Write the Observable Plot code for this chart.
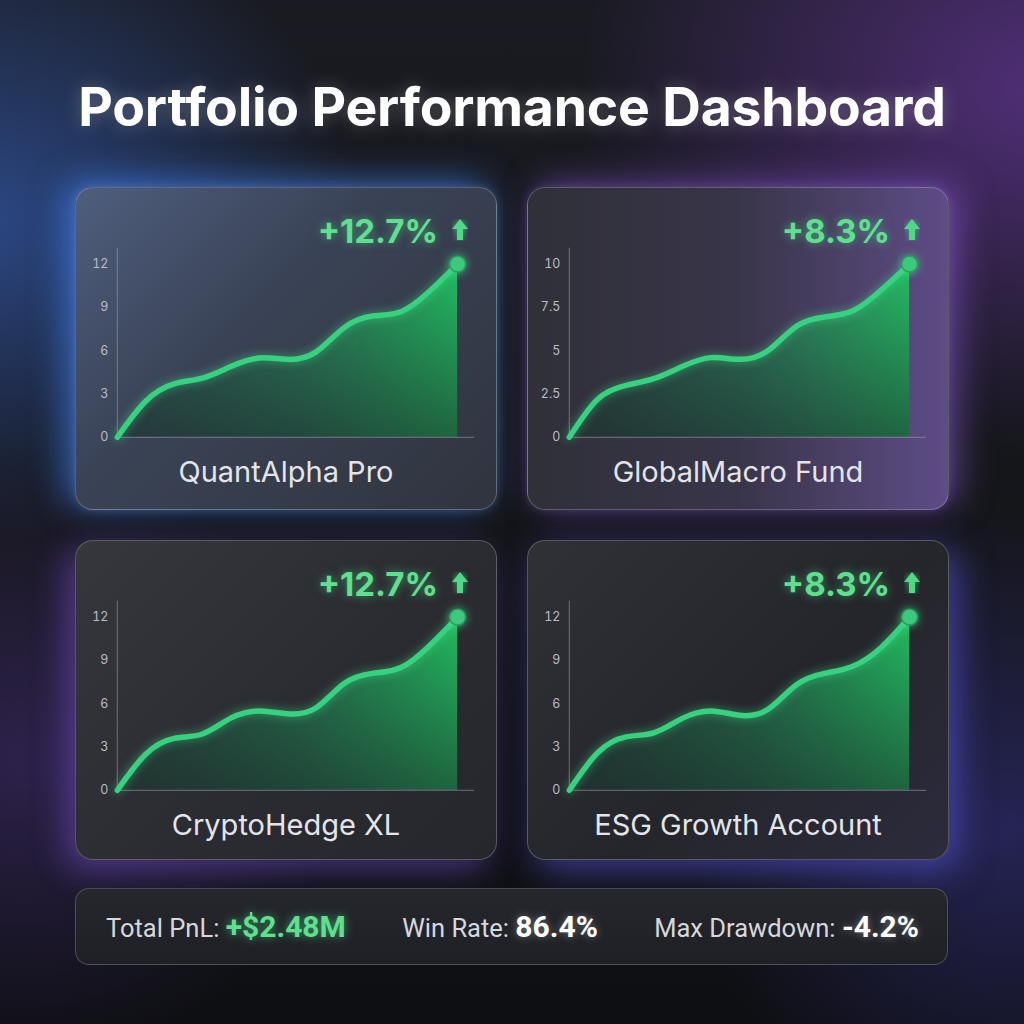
<!DOCTYPE html>
<html>
<head>
<meta charset="utf-8">
<script src="https://cdn.jsdelivr.net/npm/d3@7"></script>
<script src="https://cdn.jsdelivr.net/npm/@observablehq/plot@0.6"></script>
<style>
  html,body{margin:0;padding:0;}
  body{width:1024px;height:1024px;position:relative;overflow:hidden;font-family:Inter,"Noto Sans",sans-serif;
    background:
      radial-gradient(ellipse 380px 320px at -20px 220px, rgba(60,110,215,0.55), transparent 100%),
      radial-gradient(ellipse 460px 360px at 1040px 90px, rgba(115,60,175,0.6), transparent 100%),
      radial-gradient(ellipse 320px 300px at 20px 760px, rgba(95,60,170,0.35), transparent 100%),
      radial-gradient(ellipse 320px 320px at 1010px 830px, rgba(75,70,200,0.35), transparent 100%),
      linear-gradient(180deg,#1a1b22 0%,#141519 60%,#0e0f13 100%);}
  #title{position:absolute;left:0;top:74px;width:1024px;text-align:center;color:#fff;font-weight:700;font-size:53.5px;letter-spacing:-0.2px;text-shadow:0 0 18px rgba(255,255,255,0.25);}
  .card{position:absolute;width:422px;height:323px;border-radius:18px;border:1.5px solid rgba(255,255,255,0.22);box-sizing:border-box;overflow:hidden;}
  .card svg.plot{position:absolute;left:0;top:0;overflow:visible;}
  .pct{position:absolute;right:58px;top:23px;color:#5fe08f;font-weight:700;font-size:33px;text-shadow:0 0 10px rgba(80,230,140,0.55);}
  .arrow{position:absolute;left:376px;top:31px;}
  .name{position:absolute;left:0;width:100%;top:266px;text-align:center;color:#e3e5ea;font-size:29px;}
  #c1{left:75px;top:187px;background:linear-gradient(135deg,#4f5e7e 0%,#3a4356 40%,#30343e 100%);box-shadow:-10px -6px 34px rgba(70,140,255,0.6),0 0 10px rgba(140,180,255,0.25);}
  #c2{left:527px;top:187px;background:linear-gradient(90deg,#2f3038 0%,#393549 50%,#5e4c86 100%);box-shadow:10px -4px 34px rgba(150,100,235,0.5),0 0 10px rgba(180,150,255,0.2);}
  #c3{left:75px;top:540px;height:320px;background:linear-gradient(135deg,#36373d 0%,#2b2c31 55%,#26272c 100%);box-shadow:-10px 10px 32px rgba(130,90,230,0.45);}
  #c4{left:527px;top:540px;height:320px;background:linear-gradient(135deg,#303137 0%,#25262b 55%,#2b2b3c 100%);box-shadow:10px 10px 34px rgba(100,100,255,0.5);}
  #bar{position:absolute;left:75px;top:888px;width:873px;height:77px;border-radius:14px;border:1.5px solid rgba(255,255,255,0.2);box-sizing:border-box;
    background:linear-gradient(180deg,#26272d,#1f2025);display:flex;align-items:center;justify-content:space-between;padding:0 28px 0 30px;font-family:Roboto,Inter,sans-serif;}
  #bar .lab{color:#d6d8dd;font-size:25.5px;}
  #bar .val{font-weight:700;font-size:30px;color:#fff;text-shadow:0 0 8px rgba(255,255,255,0.35);}
  #bar .val.g{color:#5fe08f;text-shadow:0 0 10px rgba(80,230,140,0.6);}
</style>
</head>
<body>
<div id="title">Portfolio Performance Dashboard</div>
<div class="card" id="c1"></div>
<div class="card" id="c2"></div>
<div class="card" id="c3"></div>
<div class="card" id="c4"></div>
<div id="bar"></div>
<script>
// ---- data ----
const months = [0,1,2,3,4,5,6,7,8,9,10,11,12];
const quantAlpha    = [0, 2.5, 3.7, 4.1, 4.9, 5.5, 5.4, 5.9, 7.6, 8.4, 8.7, 10.1, 12];
const globalMacro   = [0, 2.2, 3.0, 3.4, 4.1, 4.6, 4.5, 5.0, 6.4, 6.95, 7.3, 8.5, 10];
const cryptoHedge   = [0, 2.5, 3.6, 3.9, 5.0, 5.5, 5.3, 5.7, 7.4, 8.1, 8.5, 10.0, 12];
const esgGrowth     = [0, 2.6, 3.7, 4.0, 5.0, 5.5, 5.2, 5.6, 7.3, 8.1, 8.6, 9.9, 12];
const fundNames     = ["QuantAlpha Pro","GlobalMacro Fund","CryptoHedge XL","ESG Growth Account"];
const fundReturns   = ["+12.7%","+8.3%","+12.7%","+8.3%"];
const ticks12       = [0,3,6,9,12];
const ticks10       = [0,2.5,5,7.5,10];
const summaryLabels = ["Total PnL:","Win Rate:","Max Drawdown:"];
const summaryValues = ["+$2.48M","86.4%","-4.2%"];

const series = [
  {id:"c1", values:quantAlpha,  top:12, ticks:ticks12},
  {id:"c2", values:globalMacro, top:10, ticks:ticks10},
  {id:"c3", values:cryptoHedge, top:12, ticks:ticks12},
  {id:"c4", values:esgGrowth,   top:12, ticks:ticks12}
];

series.forEach((s, k) => {
  const data = months.map((m, i) => ({m, v: s.values[i]}));
  const last = data[data.length - 1];
  const yMax = s.top * 13.1 / 12;
  const hg = "hg" + k, vg = "vg" + k;
  const curve = "natural";
  const chart = Plot.plot({
    width: 422, height: 262,
    marginLeft: 41, marginRight: 22, marginTop: 60, marginBottom: 12,
    x: {domain: [0, 12.6], axis: null},
    y: {domain: [0, yMax], ticks: s.ticks, tickSize: 0, tickPadding: 9, label: null, tickFormat: d3.format("~g")},
    style: {background: "transparent", color: "#b8bcc8", fontSize: "12.5px", fontFamily: "Inter, sans-serif"},
    marks: [
      Plot.areaY(data, {x: "m", y: "v", curve, fill: `url(#${hg})`}),
      Plot.areaY(data, {x: "m", y: "v", curve, fill: `url(#${vg})`}),
      Plot.ruleY([0], {x1: 0, x2: 12.6, stroke: "#9aa0ad", strokeOpacity: 0.6, strokeWidth: 1}),
      Plot.ruleX([0], {y1: 0, y2: yMax, stroke: "#9aa0ad", strokeOpacity: 0.6, strokeWidth: 1}),
      Plot.lineY(data, {x: "m", y: "v", curve, stroke: "#36d27f", strokeWidth: 5.5, strokeLinecap: "round"}),
      Plot.dot([last], {x: "m", y: "v", r: 8, fill: "#3cc97c", stroke: "#2a9c5e", strokeWidth: 1.5})
    ]
  });
  chart.classList.add("plot");
  const svg = d3.select(chart);
  const defs = svg.insert("defs", ":first-child");
  const h = defs.append("linearGradient").attr("id", hg).attr("x1", 0).attr("x2", 1).attr("y1", 0).attr("y2", 0);
  h.append("stop").attr("offset", "0%").attr("stop-color", "#1f8a5c").attr("stop-opacity", 0.3);
  h.append("stop").attr("offset", "55%").attr("stop-color", "#23a865").attr("stop-opacity", 0.6);
  h.append("stop").attr("offset", "100%").attr("stop-color", "#22c463").attr("stop-opacity", 0.95);
  const v = defs.append("linearGradient").attr("id", vg).attr("x1", 0).attr("x2", 0).attr("y1", 0).attr("y2", 1);
  v.append("stop").attr("offset", "0%").attr("stop-color", "#1c1e24").attr("stop-opacity", 0);
  v.append("stop").attr("offset", "100%").attr("stop-color", "#1c1e24").attr("stop-opacity", 0.55);
  svg.selectAll("[aria-label=line] path").style("filter", "drop-shadow(0 0 5px rgba(70,230,140,0.55))");
  svg.selectAll("[aria-label=dot] circle").style("filter", "drop-shadow(0 0 5px rgba(70,230,140,0.7))");
  const card = document.getElementById(s.id);
  card.appendChild(chart);
  const pct = document.createElement("div");
  pct.className = "pct"; pct.textContent = fundReturns[k];
  card.appendChild(pct);
  const arrow = document.createElementNS("http://www.w3.org/2000/svg", "svg");
  arrow.setAttribute("class", "arrow"); arrow.setAttribute("width", 16); arrow.setAttribute("height", 22);
  arrow.innerHTML = '<polygon points="8,0 16,10 11,10 11,21 5,21 5,10 0,10" fill="#4fd985" style="filter:drop-shadow(0 0 3px rgba(80,230,140,0.6))"/>';
  card.appendChild(arrow);
  const nm = document.createElement("div");
  nm.className = "name"; nm.textContent = fundNames[k];
  card.appendChild(nm);
});

const bar = document.getElementById("bar");
summaryLabels.forEach((l, i) => {
  const d = document.createElement("div");
  d.innerHTML = `<span class="lab">${l} </span><span class="val${i === 0 ? " g" : ""}">${summaryValues[i]}</span>`;
  bar.appendChild(d);
});
</script>
</body>
</html>
